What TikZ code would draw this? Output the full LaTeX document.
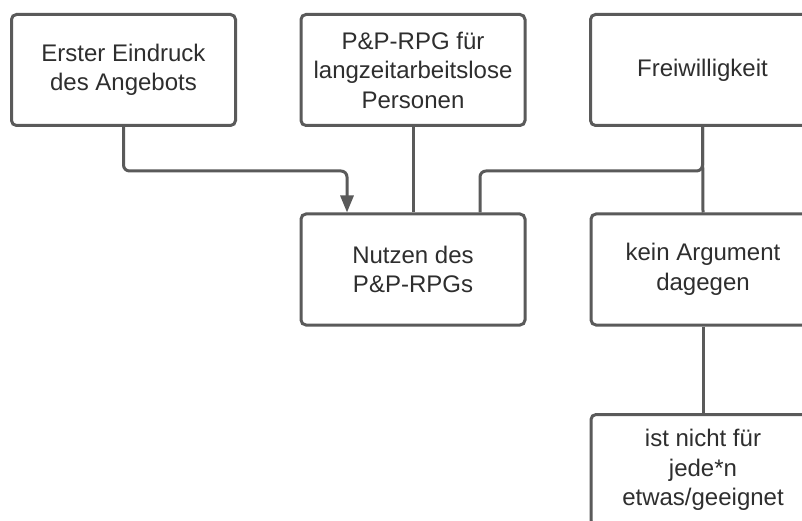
\documentclass[tikz,border=0pt]{standalone}
\usepackage{fontspec}
\setmainfont{Liberation Sans}
\usetikzlibrary{arrows.meta,calc}
\definecolor{linegray}{HTML}{5A5A5A}
\definecolor{textgray}{HTML}{2E2E2E}
\tikzset{
  box/.style={draw=linegray, line width=3pt, fill=white, rounded corners=5pt,
    minimum width=224pt, minimum height=111pt, inner sep=0pt, align=center,
    text=textgray, font=\fontsize{24}{29.5}\selectfont},
  conn/.style={draw=linegray, line width=3pt, rounded corners=6pt},
  tip/.style={-{Triangle[length=17pt,width=13pt]}}
}
\begin{document}
\begin{tikzpicture}[x=1pt,y=-1pt]
  \clip (0,0) rectangle (802,521);
  \fill[white] (0,0) rectangle (802,521);

  % top row
  \node[box] (first) at (123.5,70) {Erster Eindruck\\des Angebots};
  \node[box] (rpg)   at (413,70)   {P\&P-RPG für\\langzeitarbeitslose\\Personen};
  \node[box] (frei)  at (702.5,70) {Freiwilligkeit};

  % middle row
  \node[box] (nutzen) at (413,269.5) {Nutzen des\\P\&P-RPGs};
  \node[box] (kein)   at (703,269.5) {kein Argument\\dagegen};

  % bottom row
  \node[box] (nicht) at (703,470) {ist nicht für\\jede*n\\etwas/geeignet};

  % connectors
  \draw[conn,tip] (first.south) -- ++(0,44) -| ([xshift=-66pt]nutzen.north);
  \draw[conn] (rpg.south) -- (nutzen.north);
  \draw[conn] (frei.south) -- (kein.north);
  \draw[conn] ([xshift=67pt]nutzen.north) |- ($(frei.south)+(0,44)$) -- (frei.south);
  \draw[conn] (kein.south) -- (nicht.north);
\end{tikzpicture}
\end{document}
